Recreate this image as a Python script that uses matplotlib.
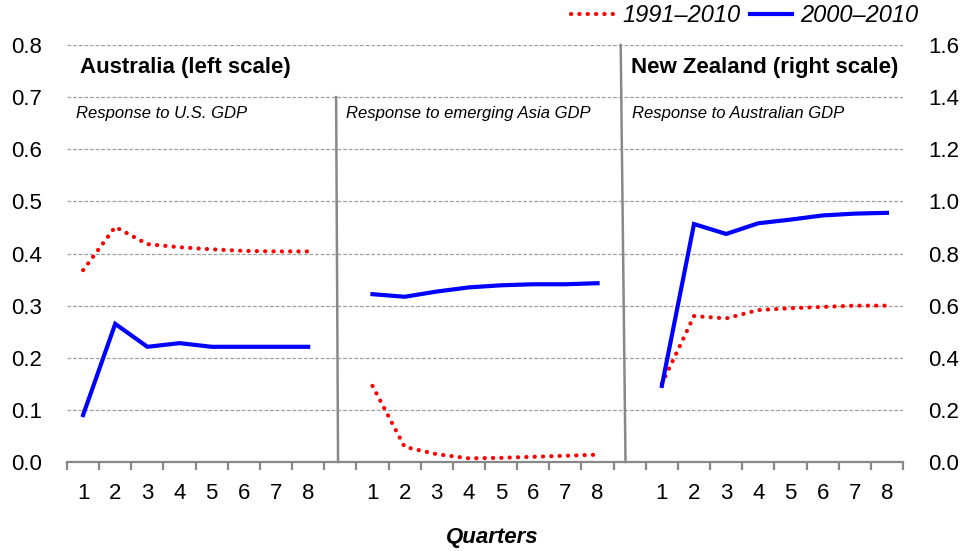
import matplotlib
matplotlib.use("Agg")
import matplotlib.pyplot as plt
from matplotlib.lines import Line2D

plt.rcParams['font.family'] = ['Liberation Sans', 'DejaVu Sans']

quarters = [1, 2, 3, 4, 5, 6, 7, 8]
quarter_labels = ['1', '2', '3', '4', '5', '6', '7', '8']

# Australia response to U.S. GDP (left scale)
aus_us_9110 = [0.368, 0.451, 0.418, 0.412, 0.408, 0.405, 0.404, 0.404]
aus_us_0010 = [0.090, 0.265, 0.221, 0.228, 0.221, 0.221, 0.221, 0.221]
# Australia response to emerging Asia GDP (left scale)
aus_asia_9110 = [0.146, 0.029, 0.015, 0.007, 0.008, 0.010, 0.012, 0.014]
aus_asia_0010 = [0.322, 0.317, 0.327, 0.335, 0.339, 0.341, 0.341, 0.343]
# New Zealand response to Australian GDP (right scale)
nz_aus_9110 = [0.300, 0.560, 0.551, 0.583, 0.590, 0.595, 0.600, 0.600]
nz_aus_0010 = [0.292, 0.913, 0.875, 0.916, 0.930, 0.946, 0.953, 0.956]

left_ticks = [0.0, 0.1, 0.2, 0.3, 0.4, 0.5, 0.6, 0.7, 0.8]
right_ticks = [0.0, 0.2, 0.4, 0.6, 0.8, 1.0, 1.2, 1.4, 1.6]

legend_labels = ['1991\u20132010', '2000\u20132010']

RED = '#ff0000'
BLUE = '#0000ff'
GREY = '#888888'

fig = plt.figure(figsize=(9.65, 5.51), dpi=100)
ax = fig.add_axes([67/965, 1-462/551, 836/965, 417/551])
ax2 = ax.twinx()

offsets = [0, 9, 18]
xs = [[q + o for q in quarters] for o in offsets]

red_style = dict(color=RED, linewidth=3.0, linestyle=(0, (0.05, 1.95)),
                 dash_capstyle='round', solid_capstyle='round')
blue_style = dict(color=BLUE, linewidth=3.0, solid_joinstyle='miter')

ax.plot(xs[0], aus_us_9110, **red_style, zorder=3)
ax.plot(xs[0], aus_us_0010, **blue_style, zorder=3)
ax.plot(xs[1], aus_asia_9110, **red_style, zorder=3)
ax.plot(xs[1], aus_asia_0010, **blue_style, zorder=3)
ax2.plot(xs[2], nz_aus_9110, **red_style, zorder=3)
ax2.plot(xs[2], nz_aus_0010, **blue_style, zorder=3)

ax.set_xlim(0.5, 26.5)
ax.set_ylim(0, 0.8)
ax2.set_ylim(0, 1.6)

# x ticks
all_x = xs[0] + xs[1] + xs[2]
ax.set_xticks(all_x)
ax.set_xticklabels(quarter_labels * 3)
ax.set_xticks([k + 0.5 for k in range(0, 27)], minor=True)
ax.tick_params(axis='x', which='major', length=0, pad=15, labelsize=16)
ax.tick_params(axis='x', which='minor', length=6, width=1.6, color=GREY, direction='out')

ax.set_yticks(left_ticks)
ax.set_yticklabels([f'{v:.1f}' for v in left_ticks])
ax.tick_params(axis='y', length=0, pad=18, labelsize=16)
ax2.set_yticks(right_ticks)
ax2.set_yticklabels([f'{v:.1f}' for v in right_ticks])
ax2.tick_params(axis='y', length=0, pad=18, labelsize=16)

for a in (ax, ax2):
    for s in ('left', 'right', 'top'):
        a.spines[s].set_visible(False)
ax.spines['bottom'].set_color(GREY)
ax.spines['bottom'].set_linewidth(1.6)
ax2.spines['bottom'].set_visible(False)

for v in left_ticks[1:]:
    ax.axhline(v, color='#a0a0a0', linewidth=0.9, linestyle=(0, (3, 1.5)), zorder=1)

# panel separators
ax.plot([8.87, 8.93], [0.7, 0.0], color=GREY, linewidth=1.8, zorder=2, clip_on=False)
ax.plot([17.72, 17.87], [0.8, 0.0], color=GREY, linewidth=1.8, zorder=2, clip_on=False)

# panel texts
ax.text(0.9, 0.756, 'Australia (left scale)', fontsize=16, fontweight='bold',
        ha='left', va='center')
ax.text(0.78, 0.668, 'Response to U.S. GDP', fontsize=12, style='italic',
        ha='left', va='center')
ax.text(9.18, 0.668, 'Response to emerging Asia GDP', fontsize=12, style='italic',
        ha='left', va='center')
ax.text(18.04, 0.756, 'New Zealand (right scale)', fontsize=16, fontweight='bold',
        ha='left', va='center')
ax.text(18.07, 0.668, 'Response to Australian GDP', fontsize=12, style='italic',
        ha='left', va='center')

fig.text(492/965, 1-538/551, 'Quarters', fontsize=16, fontweight='bold', style='italic',
         ha='center', va='center')

handles = [Line2D([], [], **red_style), Line2D([], [], **blue_style)]
fig.legend(handles, legend_labels, loc='center right', ncol=2, frameon=False,
           bbox_to_anchor=(935/965, 1-16/551), handlelength=1.8, handletextpad=0.35,
           columnspacing=0.4, borderpad=0.2, prop={'size': 17, 'style': 'italic'})

fig.savefig('out.png', dpi=100)
